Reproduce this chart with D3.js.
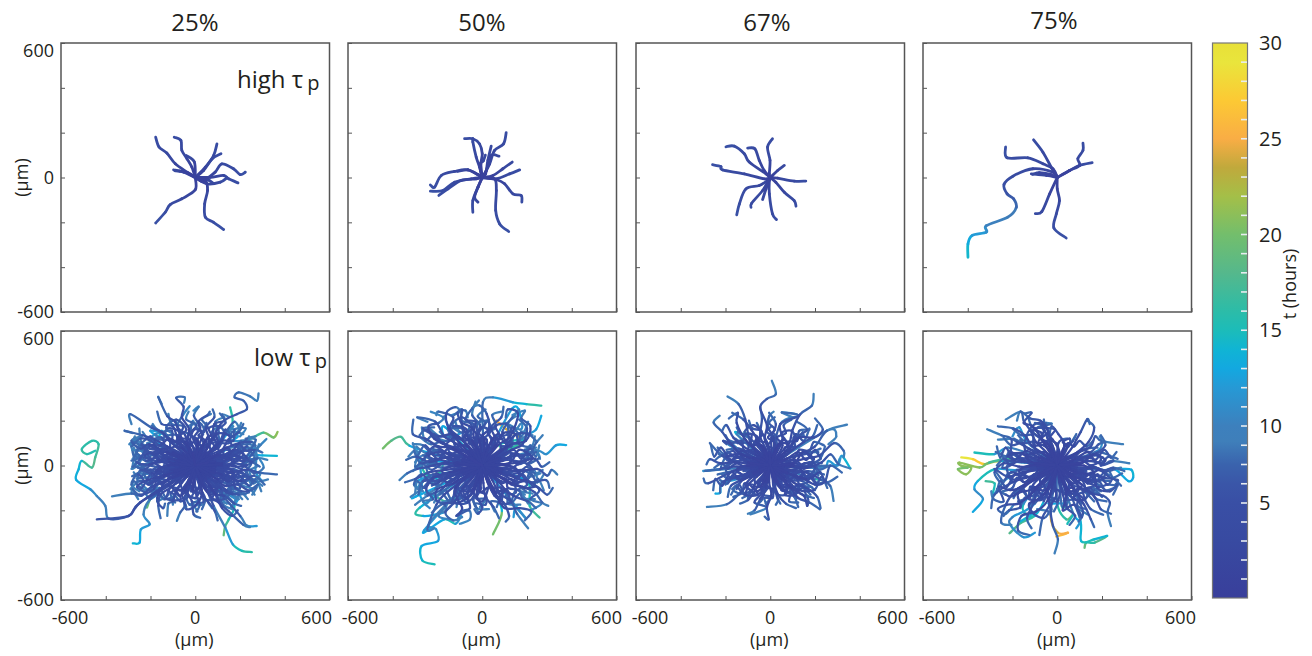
<!DOCTYPE html>
<html><head><meta charset="utf-8">
<script src="https://cdn.jsdelivr.net/npm/d3@7"></script>
<style>html,body{margin:0;background:#fff}svg{display:block}text{font-family:"Open Sans","Noto Sans",sans-serif;fill:#231f20}</style>
</head><body><svg id="c" width="1312" height="656"></svg>
<script>
const titles=["25%","50%","67%","75%"];
const tickVals=[-600,-400,-200,0,200,400,600];
const labelVals=[-600,0,600];
const cbLabels=[5,10,15,20,25,30];
const cbMinor=[1,2,3,4,5,6.25,7.5,8.75,10,11,12,13,14,15,16,17,18,19,20,21,22,23,24,25,26,27,28,29];
const colorT=[0,3,5,6.25,7.5,9,10,12,13,14,15,16,18,20,22,23.5,25,27,29,30];
const colorC=["#393f9b","#384aa1","#394fa5","#3a56a8","#3a63ad","#3f7fba","#3d80bd","#2699d5","#13a8e0","#10b4d4","#1cbcb9","#2cbca8","#55b88c","#73be6c","#a4bf48","#c0a93c","#f9ad45","#fcc934","#e9e53c","#e8e038"];
const endTimeFactor=1.3;

// tracks: [end time, x,y, x,y, ...] in µm, all starting at the origin
const high25=[
[3,-37,24,-89,61,-127,109,-162,136,-177,180],
[3,-15,46,-37,84,-60,121,-64,165,-94,180],
[2,-4,69,-40,98],
[3,45,46,82,98,97,150],
[3,37,31,75,83,115,106],
[4,45,-6,89,24,119,61,171,39,201,13,224,24],
[3,67,1,127,9,149,-6,191,-24],
[3,52,-28,112,-21,142,-1],
[2,-52,24,-97,34],
[4,0,-55,-60,-95,-112,-121,-134,-155,-177,-203],
[4,45,-13,55,-58,42,-118,45,-177,82,-200,127,-232],
[2,30,-18,55,-10,80,-25],
[2,-30,20,-70,28,-90,30]];
const high50=[
[3,-6,60,0,106,-12,150,-42,173,-79,173],
[3,-12,46,-27,91,-42,158,-42,173],
[3,10,16,33,61,55,121,95,150,107,200],
[2,15,16,25,76,40,140],
[2,18,31,40,98,75,95],
[2,48,9,92,39,134,69],
[3,63,-6,122,16,167,34],
[3,63,-9,100,-28,137,-73,174,-80,177,-110],
[4,55,-6,63,-58,60,-147,78,-207,118,-241],
[3,-19,-43,-42,-103,-42,-155],
[2,-19,-43,-34,-88,-19,-110],
[4,-64,34,-124,27,-183,9,-213,-43,-232,-33],
[4,-49,-6,-124,-21,-176,-58,-232,-61],
[3,-27,-6,-94,-13,-153,-51,-194,-80],
[2,-19,13,-64,34,-109,27],
[2,-8,30,-10,60,5,75,14,100]];
const high67=[
[3,-4,16,-1,76,-12,135,10,173],
[2,10,9,33,31,63,54],
[3,33,-3,107,-16,159,-16],
[3,25,-21,63,-66,107,-103,115,-128],
[3,-4,-13,-4,-73,10,-162,28,-188],
[2,-19,-51,-34,-98],
[3,-12,-21,-34,-58,-83,-115,-86,-133],
[4,-12,-13,-49,-36,-109,-51,-138,-118,-150,-167],
[4,-27,-6,-116,16,-213,34,-221,49,-258,57],
[4,-19,16,-94,69,-116,106,-161,140,-198,137],
[3,-27,31,-49,76,-69,128,-101,131]];
const high75=[
[3,-27,46,-64,113,-106,168],
[3,55,31,100,54,92,84,115,121,115,153],
[3,55,31,100,54,156,66],
[3,-34,-73,-69,-152,-98,-161],
[4,0,-51,10,-103,-4,-162,-15,-225,40,-270],
[4,-19,39,-64,61,-131,88,-224,88,-231,136],
[2,-49,9,-116,16],
[2,-30,14,-80,22,-110,14],
[11,-19,24,-109,39,-198,6,-238,-31,-224,-73,-195,-95,-183,-133,-221,-177,-317,-215,-317,-244,-381,-259,-399,-297,-399,-356]];

// hand-read dense tracks, low tau_p
const low25=[
[7,-12,55,-35,110,-28,165,-60,215,-52,262,-85,302,-48,305,-50,280],
[8,18,60,-8,118,22,170,-6,222,15,262,-8,245],
[6,40,50,62,115,48,170,85,215,78,250],
[7,55,40,100,95,92,150,135,190,120,228,150,218],
[6,70,32,118,65,150,118,195,150,215,185],
[7,80,20,145,55,188,70,232,120,270,130],
[8,90,12,160,30,220,20,262,60,292,92,318,118],
[7,92,-5,170,10,232,2,278,32,322,25],
[6,88,-18,158,-30,235,-18,285,-32,365,-40],
[7,85,-30,150,-58,218,-48,270,-72,325,-62],
[6,72,-42,130,-90,190,-85,240,-112,272,-100],
[7,62,-52,115,-105,165,-128,205,-120,235,-150],
[6,50,-60,90,-125,130,-135,175,-170,205,-180],
[7,35,-68,62,-130,110,-170,150,-205,215,-265,245,-275],
[6,20,-70,35,-135,60,-165,88,-205,100,-245],
[6,-2,-75,5,-130,20,-175,5,-205],
[6,-20,-70,-35,-118,-15,-160,-7,-218,22,-233],
[7,-30,-65,-60,-125,-45,-175,-67,-210,-82,-247],
[7,-48,-62,-85,-115,-100,-160,-120,-170,-125,-225],
[6,-60,-50,-105,-95,-155,-130,-165,-180,-155,-235],
[7,-72,-40,-130,-70,-195,-95,-240,-135,-285,-125,-372,-138],
[7,-82,-30,-150,-55,-205,-75,-250,-70,-290,-105],
[6,-90,-18,-165,-30,-225,-22,-282,-48],
[7,-90,-5,-160,-8,-235,5,-280,-15],
[6,-88,12,-170,18,-230,35,-285,22],
[7,-85,25,-155,40,-215,60,-282,70],
[6,-75,35,-140,65,-205,75,-275,105],
[7,-65,48,-125,85,-180,115,-235,135,-315,155,-280,145],
[7,-55,55,-110,105,-150,150,-195,168,-290,229,-285,185],
[6,-40,60,-80,125,-100,175,-150,185,-170,240],
[7,-28,65,-65,130,-90,195,-125,220,-165,305,-150,275],
[8,-22,60,-45,135,-80,175,-55,225,-25,265],
[6,8,70,30,130,15,195,55,225,65,240],
[6,30,65,75,120,85,185,130,200,110,232],
[7,50,55,105,80,135,145,175,195,200,160],
[6,65,45,130,75,195,100,250,105,270,88],
[6,75,28,150,35,205,62,265,70,300,58],
[7,85,-10,140,-15,210,-35,255,-60,300,-90],
[7,60,-35,120,-50,165,-85,225,-80,265,-130],
[6,45,-40,95,-75,140,-110,195,-130,240,-120],
[7,25,-50,55,-95,90,-125,125,-175,165,-195],
[6,5,-50,25,-105,45,-150,30,-195],
[6,-15,-45,-25,-100,-50,-145,-40,-185],
[6,-40,-45,-70,-90,-110,-125,-90,-165],
[7,-55,-35,-115,-60,-165,-80,-215,-110,-248,-95],
[7,-65,-20,-130,-25,-195,-50,-262,-58],
[6,-60,-5,-125,-12,-200,-18,-268,-5],
[6,-55,15,-120,22,-185,12,-272,42],
[6,-50,30,-110,50,-175,40,-262,85],
[7,-40,35,-95,70,-165,90,-220,88,-270,118],
[6,-20,40,-55,90,-110,115,-140,140,-195,178],
[6,0,45,5,100,-20,140,-15,195],
[6,20,40,40,85,30,130,50,190],
[6,35,25,75,60,110,95,100,145],
[6,45,10,100,25,155,45,205,35],
[6,45,-10,105,-20,170,-15,220,-40],
[6,30,-30,70,-65,125,-75,175,-100],
[5,10,-35,20,-80,5,-120],
[5,-10,-30,-30,-70,-20,-115],
[5,-30,-25,-70,-50,-120,-55],
[5,-35,-5,-85,-12,-140,2],
[5,-30,15,-75,30,-130,30],
[5,-15,30,-35,70,-70,95],
[5,12,30,20,75,50,110],
[5,30,5,70,5,120,-5],
[5,25,-20,60,-40,100,-50],
[6,-110,-20,-190,-35,-245,-20,-260,-75],
[6,-120,30,-205,5,-262,15,-280,60],
[6,-100,60,-190,50,-240,95,-265,60],
[6,110,45,200,40,255,15,288,-5],
[6,120,-40,205,-70,262,-45,310,-85],
[6,30,-120,0,-180,-40,-195,-50,-165],
[6,-120,-60,-170,-145,-145,-190,-135,-170],
[6,90,-130,120,-190,165,-225,190,-200],
[7,60,15,130,45,175,15,215,50,190,85,245,95,280,70],
[7,70,-10,140,-5,195,35,250,10,225,-25,275,-5],
[7,55,-25,120,-45,190,-25,240,-60,205,-85,265,-105],
[7,45,-40,100,-70,165,-55,200,-100,150,-110,195,-150],
[8,30,-50,85,-95,130,-65,160,-115,115,-140,140,-170],
[7,15,-55,50,-110,90,-95,95,-150,55,-155,75,-190],
[7,-5,-60,-15,-115,25,-125,35,-165,-10,-165,10,-205],
[7,-20,-55,-55,-105,-30,-135,-65,-160,-95,-130,-100,-175],
[7,-35,-50,-85,-80,-120,-110,-90,-135,-140,-150,-165,-120],
[7,-50,-35,-110,-50,-150,-85,-185,-60,-200,-110,-240,-85],
[7,-60,-20,-125,-30,-175,-55,-215,-30,-250,-55,-275,-30],
[7,-65,-5,-135,-15,-185,10,-225,-15,-260,15,-285,-15],
[7,-60,15,-125,5,-170,35,-220,20,-255,50,-280,30],
[7,-55,30,-115,40,-160,20,-200,60,-250,40,-275,80],
[7,-45,40,-100,60,-145,45,-185,90,-235,75,-265,110],
[7,-35,50,-80,85,-130,75,-150,125,-205,115,-235,150],
[7,-20,55,-55,105,-100,105,-105,155,-160,150,-190,185],
[7,-5,60,-25,115,-70,125,-55,175,-105,185,-120,230],
[7,10,55,10,115,-25,140,5,180,-40,205,-30,240],
[7,25,50,50,105,15,135,55,170,30,205,70,230],
[7,40,40,85,85,55,125,105,145,90,195,130,215],
[7,50,30,105,55,95,100,150,100,165,150,215,140],
[7,55,20,120,25,130,70,185,60,205,110,255,105],
[7,70,5,125,-20,165,5,205,-15,240,30,270,15],
[7,60,-15,110,-35,155,-15,190,-55,225,-45,250,-85],
[7,40,-30,80,-50,130,-45,145,-90,185,-100,225,-130],
[7,20,-40,60,-75,65,-120,110,-115,115,-160,155,-170],
[7,-10,-40,-30,-85,5,-100,-15,-140,20,-150,-25,-175],
[7,-30,-35,-70,-65,-60,-110,-110,-95,-125,-135,-170,-160],
[7,-40,-20,-95,-35,-105,-75,-150,-60,-180,-100,-215,-75],
[7,-45,0,-100,5,-130,-25,-170,-5,-205,-35,-255,-35],
[7,-40,20,-90,20,-120,55,-165,60,-210,40,-240,65],
[7,-30,30,-65,55,-110,70,-115,110,-165,115,-215,100],
[7,-15,40,-35,80,-80,85,-80,135,-125,135,-165,150],
[7,5,40,-10,85,-45,95,-30,140,-70,155,-85,195],
[7,20,35,30,85,-5,105,35,140,10,165,-10,200],
[7,35,25,70,50,65,95,105,110,75,150,110,175],
[7,45,10,90,35,120,10,165,35,150,75,205,85],
[8,70,65,120,110,170,110,175,160,225,165,200,130],
[8,105,10,180,-5,225,-5,265,-35,305,-10,290,25],
[8,-130,60,-205,95,-245,75,-285,110,-240,130,-295,95],
[8,-140,-45,-215,-65,-260,-95,-225,-120,-205,-150,-170,-130],
[7,80,40,140,80,185,40,230,85,260,45,285,95],
[7,85,-35,150,-70,190,-40,240,-90,270,-60,295,-115],
[7,-80,40,-145,75,-195,30,-240,90,-270,45,-290,100],
[7,-85,-40,-150,-75,-195,-35,-240,-100,-275,-70,-285,-125],
[7,90,20,160,60,215,30,255,70,280,35],
[7,90,-20,165,-50,220,-20,260,-80,290,-40],
[7,-90,25,-155,55,-205,85,-250,25,-280,-5,-265,60],
[7,-95,-25,-160,-55,-210,-85,-255,-40,-285,-85,-250,-115],
[7,-30,80,-75,125,-40,160,-85,205,-130,170,-100,140],
[7,30,85,70,135,105,95,135,160,175,125,205,190],
[7,-25,-85,-70,-135,-110,-95,-135,-150,-175,-110,-205,-150],
[7,30,-85,70,-130,110,-95,130,-150,170,-115,210,-150],
[7,-60,80,-115,120,-160,90,-200,130,-240,105,-250,165],
[7,60,85,95,140,150,135,165,90,225,80,240,130],
[7,120,0,170,-35,145,-70,205,-65,235,-20,250,-55],
[7,120,10,170,70,230,35,205,5,265,35,245,65],
[7,-120,0,-175,-25,-145,-50,-210,-65,-235,-5,-200,15],
[7,-115,15,-155,60,-225,45,-195,15,-255,-10,-220,70],
[7,10,110,-25,95,-5,160,40,150,20,190,-35,175],
[7,-10,-110,25,-95,0,-145,-40,-130,-25,-175,30,-175],
[7,45,110,85,115,60,165,110,175,140,140,170,175],
[7,-45,105,-85,105,-70,150,-125,165,-145,115,-180,140],
[7,-45,-105,-85,-110,-65,-150,-125,-150,-160,-100,-195,-125],
[7,50,-110,95,-105,75,-150,125,-150,150,-100,195,-115],
[7,100,50,150,30,190,95,235,65,270,115,225,120],
[7,100,-60,160,-30,180,-100,235,-115,280,-85,255,-130],
[7,-100,55,-165,25,-185,100,-245,120,-285,85,-270,130],
[7,-100,-55,-165,-20,-185,-105,-250,-130,-280,-105,-255,-150]];
const low50=[
[7,-10,60,-30,120,-10,180,-45,225,-30,285],
[7,15,65,-5,125,30,165,20,230,-12,268,-40,262],
[6,35,55,60,115,40,170,85,215,95,262],
[7,55,45,110,85,90,150,135,215,165,250],
[6,70,35,130,70,180,95,200,165,165,205],
[7,82,22,150,45,210,50,240,100,270,135],
[6,90,5,165,15,235,30,265,-5,300,15],
[7,88,-15,165,-25,245,-15,290,-45,310,-20,335,-40],
[6,85,-30,150,-55,215,-75,285,-65,300,-100],
[7,75,-45,130,-85,180,-95,235,-120,268,-165,295,-180],
[6,60,-55,105,-110,150,-140,205,-160,240,-190],
[7,45,-65,75,-125,130,-160,155,-215,205,-280],
[6,25,-72,55,-135,95,-165,120,-225,105,-250],
[6,5,-78,15,-140,50,-185,75,-235],
[6,-15,-75,-25,-135,0,-185,-20,-215,-35,-195],
[7,-30,-70,-65,-125,-55,-190,-95,-205,-110,-245],
[7,-50,-62,-95,-115,-125,-165,-165,-210,-130,-245,-90,-230],
[7,-65,-50,-120,-90,-170,-130,-205,-175,-245,-285,-215,-280],
[7,-75,-38,-140,-65,-185,-110,-245,-135,-300,-175],
[7,-85,-25,-155,-45,-220,-55,-265,-100,-320,-140],
[6,-90,-10,-165,-20,-235,-30,-300,-60,-345,-75],
[7,-90,5,-170,10,-240,-5,-290,-15,-335,-35,-370,-65],
[6,-88,20,-165,35,-235,15,-295,40,-340,25],
[7,-85,32,-150,55,-215,45,-265,90,-310,95],
[6,-75,45,-135,80,-195,85,-255,120,-310,140,-308,205],
[7,-65,55,-120,100,-170,130,-210,195,-290,215,-245,195],
[7,-50,65,-95,120,-145,165,-130,215,-195,240,-205,225],
[7,-35,70,-70,135,-90,180,-110,235,-75,245,-65,215],
[7,-20,72,-40,140,-30,195,-75,205,-45,255,-15,290],
[6,5,50,-10,110,-25,170,-5,205],
[6,25,45,45,100,30,145,60,165],
[6,45,30,95,60,130,110,110,140],
[6,50,10,110,25,175,20,225,60],
[6,50,-15,115,-30,180,-20,230,-50],
[6,40,-35,85,-70,145,-80,195,-115],
[6,20,-45,40,-105,80,-130,65,-185],
[6,-5,-50,-10,-105,-40,-150,-25,-190],
[6,-25,-45,-55,-95,-80,-135,-135,-160],
[6,-40,-35,-90,-70,-135,-85,-190,-130],
[6,-50,-15,-110,-30,-165,-40,-225,-90],
[6,-50,10,-110,5,-175,-10,-255,10],
[6,-45,30,-100,45,-160,55,-225,75],
[6,-30,45,-70,85,-125,100,-155,165],
[6,-10,50,-35,100,-65,140,-55,175],
[5,30,20,75,30,125,60],
[5,30,-15,70,-30,125,-35],
[5,12,-30,25,-75,55,-110],
[5,-15,-30,-30,-75,-75,-95],
[5,-30,-10,-75,-25,-130,-15],
[5,-30,10,-70,20,-120,25],
[5,-12,30,-30,70,-20,120],
[5,15,30,30,65,10,105],
[6,-115,-40,-190,-70,-265,-70,-285,-130],
[6,-125,10,-210,30,-275,10,-305,65],
[6,-95,70,-180,100,-245,160,-280,135],
[6,90,70,145,135,205,140,245,105],
[6,105,-65,190,-100,245,-95,290,-130,315,-100],
[6,60,-125,100,-190,165,-190,220,-205,190,-245],
[6,-40,-120,-105,-165,-175,-170,-225,-210],
[6,-70,95,-130,140,-195,130,-265,165,-215,170],
[6,70,90,125,130,160,230,115,250,105,215],
[6,-15,115,-50,170,-95,195,-90,250,-125,225],
[7,55,20,120,35,160,5,205,30,190,70,240,80],
[7,60,-5,125,-15,175,15,220,-10,205,-50,260,-35],
[7,50,-25,110,-45,165,-35,200,-85,160,-110,225,-125],
[7,35,-40,85,-80,130,-60,150,-120,105,-135,140,-180],
[7,15,-50,50,-100,85,-100,85,-160,40,-160,55,-205],
[7,-5,-55,-20,-110,15,-130,15,-175,-30,-170,-15,-215],
[7,-25,-50,-60,-95,-35,-130,-70,-165,-100,-135,-115,-185],
[7,-40,-40,-90,-70,-115,-115,-90,-145,-150,-160,-165,-205],
[7,-50,-25,-110,-45,-150,-85,-180,-55,-210,-105,-255,-130],
[7,-60,-10,-125,-25,-170,-60,-220,-40,-260,-65,-290,-105],
[7,-60,5,-125,-5,-175,10,-225,-20,-265,5,-310,-25],
[7,-55,20,-120,15,-165,40,-215,20,-265,45,-300,15],
[7,-50,35,-105,40,-150,25,-195,70,-250,55,-295,85],
[7,-40,45,-90,65,-140,55,-175,105,-230,95,-275,125],
[7,-30,50,-70,90,-120,85,-135,135,-190,130,-240,170],
[7,-15,55,-40,110,-85,115,-90,165,-145,170,-170,220],
[7,0,55,-15,115,-55,130,-40,185,-90,200,-95,250],
[7,15,55,20,115,-15,145,15,190,-20,220,15,250],
[7,30,50,55,105,25,145,60,180,45,225,85,240],
[7,40,40,85,80,65,125,115,140,115,190,150,220],
[7,50,30,105,55,110,100,160,100,175,150,225,135],
[7,55,10,120,5,130,55,180,40,215,90,250,55],
[7,65,-15,125,-5,165,-30,200,-5,235,-35,270,-20],
[7,50,-40,105,-60,115,-100,165,-110,180,-145,235,-150],
[7,25,-35,65,-65,70,-110,115,-125,115,-170,170,-175],
[7,-15,-40,-35,-85,-5,-100,-25,-145,15,-150,-10,-185],
[7,-30,-35,-75,-60,-70,-105,-120,-100,-130,-145,-185,-165],
[7,-40,-15,-95,-30,-115,-70,-155,-55,-195,-90,-240,-65],
[7,-40,15,-90,15,-130,45,-175,35,-215,65,-260,45],
[7,-25,35,-60,65,-105,65,-110,115,-165,110,-225,130],
[7,-5,40,-25,85,-60,100,-50,150,-100,150,-120,195],
[7,20,35,30,85,0,110,35,150,5,175,30,205],
[7,40,20,85,40,85,85,130,85,140,130,185,150],
[8,-145,-30,-225,-60,-250,-110,-220,-150,-265,-160,-235,-190],
[8,-130,-80,-200,-105,-205,-155,-165,-180,-195,-225,-150,-240],
[8,130,-80,195,-65,255,-110,215,-150,265,-170,215,-200],
[8,-130,75,-215,120,-240,175,-195,190,-175,215,-230,240],
[8,-100,100,-150,165,-160,235,-120,260,-100,240,-135,225],
[8,120,90,195,110,215,175,175,210,190,245,135,225],
[8,-120,-100,-90,-190,-115,-225,-60,-200,-55,-240,-100,-260],
[7,80,35,140,70,175,30,215,75,240,40,255,90],
[7,85,-35,145,-70,180,-40,225,-90,250,-60,275,-110],
[7,-80,40,-150,75,-200,30,-255,90,-290,45,-310,100],
[7,-85,-40,-155,-75,-205,-35,-255,-100,-290,-70,-300,-125],
[7,90,20,150,55,200,25,240,60,258,30],
[7,90,-20,155,-50,205,-20,245,-75,275,-40],
[7,-90,25,-160,55,-215,85,-265,25,-300,-5,-285,60],
[7,-95,-25,-165,-55,-220,-85,-270,-40,-305,-85,-265,-115],
[7,-30,85,-80,130,-45,170,-90,215,-135,180,-105,150],
[7,30,90,70,140,105,100,135,170,175,130,205,195],
[7,-30,-90,-75,-145,-115,-100,-140,-165,-185,-120,-215,-165],
[7,30,-90,70,-140,110,-105,130,-165,170,-125,205,-170],
[7,-60,85,-120,125,-170,95,-215,140,-255,110,-270,170],
[7,60,90,95,145,150,140,165,95,220,85,235,130],
[7,120,0,165,-35,140,-70,200,-65,230,-20,245,-55],
[7,120,10,165,70,225,35,200,5,255,35,240,65],
[7,-120,0,-180,-25,-150,-50,-220,-65,-250,-5,-215,15],
[7,-115,15,-165,60,-240,45,-205,15,-270,-10,-235,70],
[7,10,115,-25,100,-5,170,40,160,20,200,-35,185],
[7,-10,-115,25,-100,0,-160,-40,-140,-25,-190,30,-195],
[7,45,115,85,120,60,175,110,185,140,150,170,185],
[7,-45,110,-85,110,-70,160,-130,175,-150,120,-190,150],
[7,-45,-110,-85,-115,-65,-165,-130,-165,-165,-110,-205,-140],
[7,50,-115,95,-110,75,-165,125,-165,150,-110,190,-130]];
const low67=[
[7,-5,60,-25,120,-15,180,-45,259,-15,297,25,319,7,378],
[7,15,60,15,125,-10,170,-5,220,15,240],
[7,40,50,85,100,100,160,134,229,186,267,194,319],
[6,55,40,100,70,150,105,190,130,210,180],
[7,70,30,130,50,200,85,253,155,343,182],
[7,85,10,150,30,220,45,285,100,328,66,328,36],
[7,90,-5,165,-10,230,15,270,50,305,6,358,-13],
[7,85,-20,160,-30,224,-61,268,-91,283,-158],
[6,75,-35,140,-55,200,-85,245,-70,268,-1,320,-31],
[6,65,-50,120,-85,170,-105,210,-140,225,-190],
[6,50,-60,95,-105,125,-145,175,-165,222,-195],
[6,35,-70,65,-115,105,-135,125,-185],
[6,15,-72,35,-130,70,-170,115,-190],
[6,-5,-75,5,-130,-15,-188,-7,-240,-25,-228],
[7,-25,-70,-40,-125,-70,-165,-15,-188,-89,-218],
[6,-40,-65,-70,-115,-100,-155,-135,-170],
[7,-60,-50,-100,-85,-134,-121,-194,-173,-283,-185],
[6,-70,-40,-125,-65,-175,-90,-190,-140],
[6,-80,-28,-150,-50,-216,-76,-224,-121],
[6,-85,-15,-164,-24,-276,-79,-298,-58],
[6,-90,-5,-170,-5,-224,-16,-291,-24],
[6,-90,8,-165,15,-224,10,-268,28,-285,5],
[6,-85,22,-155,40,-215,45,-270,100],
[7,-75,35,-140,60,-190,115,-215,150,-253,192,-226,222],
[6,-65,50,-120,85,-165,125,-195,180,-215,155],
[7,-50,60,-90,105,-112,207,-142,274,-191,308],
[6,-35,65,-60,120,-85,160,-120,205,-170,235],
[6,-18,70,-45,130,-37,207,-45,259],
[6,5,70,5,125,25,185,-5,235],
[6,30,60,55,115,45,185,127,222,52,237],
[6,45,45,90,75,115,125,165,160,120,195],
[6,60,25,110,40,170,55,225,75],
[6,60,-5,115,-5,175,15,230,10],
[6,55,-20,110,-30,170,-25,240,-40],
[6,45,-35,95,-65,145,-70,200,-110],
[6,30,-45,55,-90,85,-100,120,-145],
[6,10,-50,15,-100,35,-150,25,-175],
[6,-10,-50,-25,-95,-35,-150,-55,-170],
[6,-30,-40,-65,-80,-90,-125,-125,-145],
[6,-45,-25,-100,-45,-155,-50,-200,-85],
[6,-50,-5,-110,-10,-170,-25,-235,-40],
[6,-50,12,-105,25,-165,20,-230,50],
[6,-40,30,-85,55,-140,75,-195,70],
[6,-25,45,-55,85,-90,120,-145,150],
[6,-5,50,-15,105,-40,150,-60,190],
[5,15,40,30,90,20,140],
[5,30,25,70,45,110,80],
[5,35,0,80,-5,130,-15],
[5,30,-20,70,-40,110,-60],
[5,10,-30,25,-70,15,-120],
[5,-10,-30,-25,-70,-60,-95],
[5,-30,-10,-70,-20,-120,-25],
[5,-30,10,-70,15,-125,35],
[5,-12,30,-30,70,-65,100],
[5,-50,-10,-85,-30,-130,-70,-150,-105],
[5,70,-65,130,-110,195,-110,215,-75],
[6,70,65,130,125,195,125,235,160,200,210],
[6,-110,115,-150,190,-145,235,-185,210],
[6,160,-60,220,-30,250,-75,300,-50],
[7,-20,-100,-45,-150,-70,-200,-100,-215],
[6,95,-100,150,-135,165,-180,168,-145,135,-125],
[5,-130,50,-170,90,-210,110,-195,95],
[6,50,15,110,25,150,-5,190,20,165,55,215,60],
[6,55,-10,110,-20,155,10,200,-10,185,-40,225,-30],
[6,45,-25,95,-40,140,-30,170,-70,135,-90,185,-95],
[6,30,-40,75,-70,110,-50,130,-100,90,-110,115,-150],
[6,10,-45,40,-90,70,-85,70,-130,30,-135,45,-170],
[6,-10,-45,-20,-95,10,-105,10,-145,-25,-145,-15,-180],
[6,-25,-40,-55,-80,-35,-110,-65,-130,-90,-110,-100,-150],
[6,-40,-30,-85,-55,-110,-90,-85,-115,-135,-125,-160,-115],
[6,-45,-15,-100,-30,-135,-65,-170,-45,-190,-80,-225,-65],
[6,-50,0,-105,-10,-150,10,-190,-15,-215,10,-250,-10],
[6,-45,15,-100,10,-140,35,-185,20,-215,45,-245,25],
[6,-40,30,-90,35,-130,25,-165,65,-205,50,-235,80],
[6,-30,40,-70,70,-115,65,-130,110,-175,100,-200,135],
[6,-15,50,-45,90,-85,95,-85,140,-130,140,-150,170],
[6,0,50,-15,100,-50,110,-40,155,-80,165,-95,200],
[6,15,50,20,100,-10,125,20,160,-5,190,20,215],
[6,30,40,55,90,30,125,70,145,60,180,95,205],
[6,40,25,85,60,75,105,120,110,130,155,175,160],
[6,50,5,105,30,130,70,175,65,195,105,240,90],
[6,60,-5,115,10,150,-15,195,10,215,-20,255,-5],
[6,50,-30,100,-25,130,-60,175,-45,210,-80,250,-70],
[6,35,-40,80,-50,95,-95,145,-85,160,-130,195,-145],
[6,15,-35,50,-65,50,-110,90,-120,85,-160,125,-165],
[6,-15,-35,-35,-70,-10,-95,-30,-130,5,-140,-20,-170],
[6,-30,-25,-70,-45,-70,-85,-115,-80,-125,-120,-165,-140],
[6,-35,-5,-85,-15,-105,-50,-150,-30,-185,-60,-215,-40],
[6,-35,15,-85,15,-115,45,-155,35,-190,60,-225,40],
[6,-20,30,-50,60,-95,60,-100,100,-145,100,-190,115],
[6,10,30,20,70,-10,90,15,125,-15,150,5,175],
[6,30,20,65,45,65,80,110,85,105,125,150,135],
[6,75,30,125,60,160,25,200,70,225,35,245,85],
[6,75,-30,130,-60,160,-30,205,-80,230,-50,255,-100],
[6,-75,35,-130,65,-175,25,-220,80,-250,40,-265,90],
[6,-75,-35,-130,-65,-175,-30,-215,-90,-245,-60,-255,-110],
[6,-25,75,-65,110,-35,140,-75,180,-115,150,-90,125],
[6,25,75,60,115,90,85,115,140,150,110,175,165],
[6,-20,-75,-60,-115,-95,-85,-115,-130,-150,-95,-175,-130],
[6,25,-75,60,-110,95,-85,110,-130,145,-100,180,-130],
[6,105,0,145,-30,125,-60,175,-55,200,-15,215,-45],
[6,105,10,145,60,195,30,175,5,225,30,210,55],
[6,-105,0,-150,-20,-125,-45,-180,-55,-200,-5,-175,15],
[6,-100,15,-135,50,-195,40,-170,15,-220,-10,-190,60],
[6,40,95,75,100,50,145,95,155,120,120,145,150],
[6,-40,90,-75,90,-60,130,-110,140,-125,100,-155,120],
[6,-40,-90,-75,-95,-55,-130,-110,-130,-140,-85,-170,-105],
[6,45,-95,85,-90,65,-130,110,-130,130,-85,170,-100]];
const low75=[
[7,-10,55,-30,110,-45,165,-75,200,-120,210,-164,240,-180,200],
[7,10,60,-20,115,-55,150,-70,180,-50,190,-25,187],
[6,25,55,30,100,5,140,-25,175,-35,130],
[6,40,45,70,85,85,115,105,150,134,207,145,185],
[7,55,35,100,60,150,85,170,130,197,110,294,95],
[6,70,22,130,40,175,55,215,90,195,135],
[7,85,10,150,20,210,5,241,21,322,10],
[7,88,-8,165,-10,225,-25,257,-16,285,-10],
[6,85,-22,150,-40,215,-55,270,-65,260,-85],
[6,70,-40,125,-70,185,-95,225,-85,270,-90],
[7,60,-55,105,-100,155,-125,205,-135,235,-165,225,-210,240,-270],
[6,45,-65,80,-115,120,-150,150,-195,205,-220],
[6,30,-70,50,-130,95,-160,115,-215,95,-250],
[6,10,-75,25,-130,45,-190,80,-225,55,-265],
[7,-10,-75,-5,-135,-30,-185,-19,-270,3,-329,-12,-392],
[6,-30,-70,-50,-125,-35,-175,-65,-230,-80,-310],
[6,-50,-60,-90,-100,-105,-165,-135,-235,-115,-280],
[7,-65,-48,-125,-75,-185,-110,-230,-175,-250,-255,-205,-265],
[6,-75,-35,-140,-55,-200,-75,-280,-130,-295,-190],
[6,-85,-20,-155,-30,-220,-50,-280,-16,-240,-75],
[6,-90,-5,-170,-5,-240,10,-280,-30,-260,-70],
[6,-88,12,-160,15,-230,25,-250,55],
[7,-85,25,-150,50,-205,60,-205,118,-250,135,-313,162],
[7,-70,40,-125,75,-180,105,-205,118,-265,115],
[6,-60,50,-115,90,-145,135,-195,165,-265,175],
[7,-50,60,-95,105,-120,155,-150,200,-164,240,-230,205],
[7,-35,65,-70,115,-110,150,-85,170,-30,185,-25,187],
[6,-20,65,-45,125,-65,175,-100,190],
[6,0,60,5,100,20,115,45,120],
[6,20,50,50,85,70,110,85,140],
[6,40,35,85,55,130,75,180,80],
[6,50,15,105,25,165,45,205,35],
[6,50,-10,115,-15,175,-10,235,-45],
[6,45,-30,100,-55,150,-65,205,-100],
[6,30,-45,65,-85,110,-105,165,-160],
[6,12,-50,20,-105,45,-145,40,-185],
[6,-10,-50,-15,-105,-35,-145,-25,-195],
[6,-30,-40,-65,-80,-90,-130,-120,-175],
[6,-45,-25,-95,-45,-145,-85,-190,-110],
[6,-50,-5,-110,-15,-170,-20,-225,-40],
[6,-45,15,-100,25,-165,35,-215,60],
[6,-35,30,-75,60,-130,75,-165,115],
[6,-15,45,-35,90,-75,125,-95,165],
[5,15,35,30,80,50,95],
[5,30,20,70,35,115,40],
[5,35,-5,80,-10,130,-25],
[5,25,-25,60,-50,100,-80],
[5,5,-35,10,-75,25,-110],
[5,-15,-30,-30,-70,-65,-95],
[5,-30,-10,-70,-20,-125,-20],
[5,-30,10,-75,15,-130,30],
[5,-15,30,-30,65,-60,90],
[6,110,-85,170,-145,195,-195,240,-215],
[6,-100,-100,-175,-125,-165,-185,-215,-200,-240,-225],
[6,-115,-70,-195,-135,-230,-130,-270,-105],
[6,70,-100,120,-175,150,-240,165,-275],
[6,-40,-150,-95,-205,-160,-225,-175,-290,-125,-310],
[6,90,60,140,105,165,170,135,200],
[6,-70,120,-110,175,-150,190,-115,235,-145,232],
[6,130,-40,190,-20,240,-55,290,-35],
[6,55,10,110,25,150,0,195,25,180,60,225,50],
[6,55,-10,110,-25,160,-5,205,-30,185,-60,235,-70],
[6,45,-30,95,-50,140,-40,170,-85,130,-105,185,-125],
[6,30,-40,70,-80,110,-65,125,-115,85,-130,110,-170],
[6,10,-50,40,-100,75,-100,70,-150,30,-155,45,-195],
[6,-10,-50,-25,-100,10,-115,0,-160,-35,-155,-25,-205],
[6,-25,-45,-60,-85,-40,-125,-75,-145,-100,-120,-110,-170],
[6,-40,-35,-90,-65,-115,-105,-90,-130,-145,-145,-165,-190],
[6,-50,-20,-105,-40,-145,-75,-180,-55,-200,-100,-245,-115],
[6,-55,-5,-115,-15,-160,-45,-205,-30,-235,-65,-260,-100],
[6,-55,10,-115,5,-160,25,-210,5,-240,30,-270,0],
[6,-45,25,-100,35,-145,15,-185,50,-225,40,-275,60],
[6,-40,40,-85,60,-135,50,-155,100,-205,90,-240,125],
[6,-25,50,-60,90,-105,90,-110,135,-160,135,-200,165],
[6,-10,55,-30,105,-70,115,-60,165,-110,170,-130,215],
[6,5,50,0,95,-35,120,-10,160,-50,170,-60,205],
[6,25,40,45,85,25,105,55,120,60,100,80,130],
[6,35,30,80,40,110,70,150,60,185,95,215,105],
[6,50,5,110,10,145,35,190,10,230,40,270,30],
[6,55,-15,115,-25,155,-5,200,-25,250,-10,300,-25],
[6,50,-35,105,-40,135,-80,185,-70,215,-110,255,-100],
[6,35,-45,80,-60,100,-105,150,-100,170,-145,220,-160],
[6,15,-40,50,-75,55,-120,95,-135,90,-180,130,-195],
[6,-15,-40,-35,-80,-10,-105,-30,-140,5,-155,-15,-205],
[6,-30,-30,-75,-55,-75,-100,-120,-95,-130,-140,-175,-160],
[6,-35,-10,-85,-20,-110,-60,-155,-40,-190,-75,-220,-50],
[6,-35,10,-85,15,-120,40,-165,25,-200,55,-235,30],
[6,-20,30,-55,60,-95,60,-105,105,-150,100,-195,120],
[6,30,-15,70,-20,105,-50,150,-35,180,-70,215,-55],
[7,-150,-90,-210,-110,-260,-95,-240,-160,-285,-150,-295,-115],
[7,-120,-130,-175,-170,-225,-175,-265,-195,-230,-215,-195,-175],
[7,40,-130,25,-200,75,-175,110,-230,90,-195,140,-220],
[7,-60,-130,-125,-170,-105,-215,-60,-235,-40,-205,-90,-195],
[6,80,30,135,60,170,25,210,70,240,35,265,60],
[6,85,-35,145,-70,180,-40,225,-85,250,-60,285,-90],
[6,-80,35,-140,65,-190,25,-230,80,-255,35,-270,85],
[6,-85,-40,-145,-75,-185,-35,-225,-95,-255,-70,-270,-120],
[6,-30,80,-70,120,-40,150,-80,190,-120,165,-95,135],
[6,25,70,50,100,75,85,100,110,130,85,160,110],
[6,-25,-85,-65,-130,-105,-95,-125,-145,-165,-105,-195,-145],
[6,30,-85,65,-125,105,-95,125,-145,165,-110,200,-140],
[6,120,0,165,-35,140,-65,200,-60,225,-20,245,-50],
[6,115,15,160,50,215,25,195,0,250,20,235,45],
[6,-120,0,-170,-25,-145,-50,-205,-60,-225,-5,-195,15],
[6,-115,15,-155,55,-220,45,-190,15,-245,-10,-215,65],
[6,-45,100,-85,100,-70,145,-125,155,-145,110,-175,135],
[6,-45,-105,-85,-110,-65,-150,-125,-150,-155,-100,-190,-125],
[6,50,-110,95,-105,75,-150,125,-150,150,-100,195,-115],
[6,100,-60,160,-30,180,-100,235,-115,270,-85,250,-130]];

// tracks with colours read point by point: [x,y,t, x,y,t, ...]
const timed25=[
[-120,-90,3,-246,-165,5,-298,-225,6,-387,-237,7,-402,-180,9,-440,-136,10,-469,-106,11,-532,-64,13,-521,-16,13.5,-507,21,14,-462,-9,17,-447,36,18,-432,95,17,-462,110,16,-507,73,16,-484,51,16.5,-447,66,15.5],
[-246,-165,4,-298,-225,5,-440,-240,6],
[-100,-75,3,-201,-150,7,-231,-218,9,-204,-262,11,-243,-285,12,-249,-344,13,-279,-347,14],
[-150,-105,6,-194,-136,16,-216,-188,19],
[120,60,6,171,88,14,246,118,15,305,147,17,350,125,20,368,150,21],
[180,30,8,246,46,12,300,45,13,365,43,14],
[60,90,3,119,192,5,186,229,6,231,252,6.5,216,289,7,176,304,7.5,194,326,8,246,308,8.5,276,289,9,283,322,9.5],
[90,80,5,164,177,13,156,259,16],
[40,-80,3,82,-180,6,134,-277,9,168,-352,12,209,-381,15,253,-386,16],
[100,-100,6,174,-173,10,150,-240,15,134,-270,17,127,-311,19],
[100,-110,4,201,-225,7,230,-268,9,275,-270,12],
[-80,60,5,-164,103,13,-149,155,14],
[-130,130,8,-200,155,12,-165,125,13],
[250,80,10,270,-30,11,300,-70,12],
[180,-150,11,160,-120,13],
[120,120,7,160,165,11,190,130,12,165,110,13,215,110,11],
[-190,110,9,-145,150,11,-120,125,10],
[150,-130,9,190,-150,11,160,-185,12,205,-120,10]];
const timed50=[
[-180,40,8,-325,88,13,-363,128,17,-407,110,18,-444,76,20],
[-90,-100,3,-235,-255,9,-206,-285,11,-198,-337,12,-271,-359,13,-268,-423,14,-213,-441,15],
[100,30,5,241,66,10,286,51,11,331,91,12,375,91,13],
[95,60,5,182,110,21,107,162,24,63,200,25,100,170,25],
[182,110,16,78,95,15,107,66,17],
[3,140,3,3,282,8,48,304,9,137,282,12,197,274,14,264,267,16],
[100,-30,5,206,-76,13,212,-180,15,256,-232,17],
[40,-90,4,88,-203,14,48,-307,20],
[-100,-100,7,-146,-165,15,-235,-121,17],
[-279,-188,14,-265,-225,16,-176,-210,13,-140,-180,9],
[197,133,9,241,162,12,264,222,13],
[-235,10,8,-280,30,15,-250,-40,16,-190,-30,17,-175,10,16],
[-270,-60,12,-285,-100,13,-240,-45,15,-190,-70,14],
[-300,-140,13,-270,-105,13,-290,60,12,-330,40,9],
[-165,170,14,-170,130,13,-130,130,11,-95,145,12],
[-260,-290,12,-170,-240,13,-120,-260,15,-95,-225,12],
[135,255,12,175,200,13,170,160,11,105,190,9],
[190,-230,12,150,-190,11,140,-230,12],
[-200,20,13,-140,15,15,-105,10,16],
[-250,-60,10,-280,-120,12,-250,-170,13,-215,-120,11]];
const timed67=[
[-200,105,8,-165,90,11,-130,55,10,-190,100,11],
[45,185,7,127,222,10,52,237,11,100,215,9],
[225,-10,9,260,20,12,295,0,12,310,30,11],
[268,-1,8,305,6,12,320,43,12,358,-13,14],
[-149,-61,8,-216,-76,12,-224,-121,13,-245,-125,13],
[-291,-24,10,-224,-16,11],
[-150,140,10,-130,140,14,-110,145,16],
[200,-60,10,225,-62,16,240,-65,14],
[-180,90,9,-150,75,11,-185,110,10,-140,60,10],
[253,155,9,295,130,10,260,95,9]];
const timed75=[
[-200,30,8,-305,13,17,-347,-9,20,-437,13,21,-429,-1,21,-385,-9,21,-407,-39,21,-444,-16,21,-400,-10,20],
[-250,20,14,-325,6,22,-377,28,27,-429,36,29],
[-120,50,6,-220,80,10,-281,51,12,-370,58,15],
[-180,-20,6,-280,-16,12,-355,-69,15,-370,-106,13,-332,-150,11,-377,-207,13],
[-210,-50,7,-285,-130,11,-280,-80,15,-320,-70,17],
[-60,-160,6,-101,-225,14,-161,-255,17,-213,-302,18],
[-100,-170,7,-200,-230,12,-210,-265,10,-150,-320,11,-100,-300,12],
[-30,-220,8,3,-300,24,48,-300,25,-4,-317,26],
[0,-170,8,40,-240,16,70,-220,19,45,-260,15],
[20,-180,8,30,-170,16,-40,-170,13],
[100,-230,7,107,-337,14,167,-329,15,223,-314,14,167,-344,18,130,-344,16,122,-367,19],
[200,-20,8,257,-16,12,317,-69,13,339,-54,13,331,-19,14,290,-15,13],
[-150,-170,11,-120,-230,15,-100,-210,16,-165,-250,14],
[-130,100,10,-170,170,12,-200,130,11],
[170,60,8,200,100,11,190,130,10],
[70,-210,9,100,-250,13,85,-280,12]];

const yTop=[43,331], ySize=269;
const xLeft=[61,348,636,923], xSize=268.5;
const lowHigh=[high25,high50,high67,high75];
const lowBody=[low25,low50,low67,low75];
const lowTimed=[timed25,timed50,timed67,timed75];
const minusShift=[9,12,14,14], plusShift=[-13,-10,-12,-11];

const svg=d3.select("#c");
const tColor=d3.scaleLinear().domain(colorT).range(colorC).clamp(true);

function pushSegs(segs,pts,tf){
  pts.forEach((p,i)=>{
    if(i===pts.length-1)return;
    segs.push({a:pts[Math.max(i-1,0)],b:p,c:pts[i+1],d:pts[Math.min(i+2,pts.length-1)],t:tf(i)});
  });
}
function segmentsOf(body,timed){
  const segs=[];
  body.forEach(tr=>{
    const T=tr[0]*endTimeFactor, pts=[[0,0]];
    for(let i=1;i<tr.length;i+=2)pts.push([tr[i],tr[i+1]]);
    const tAt=d3.scaleLinear().domain([0,pts.length-1]).range([0,T]);
    pushSegs(segs,pts,i=>tAt(i+1));
  });
  timed.forEach(tr=>{
    const pts=[[0,0,0]];
    for(let i=0;i<tr.length;i+=3)pts.push([tr[i],tr[i+1],tr[i+2]]);
    pushSegs(segs,pts,i=>pts[i+1][2]);
  });
  return d3.sort(segs,d=>-d.t);
}

function panel(col,row){
  const x=d3.scaleLinear().domain([-600,600]).range([xLeft[col],xLeft[col]+xSize]);
  const y=d3.scaleLinear().domain([-600,600]).range([yTop[row]+ySize,yTop[row]]);
  const g=svg.append("g");
  const P=q=>[x(q[0]),y(q[1])];
  const curve=s=>{
    const [a,b,c,d]=[s.a,s.b,s.c,s.d].map(P), p=d3.path();
    p.moveTo(b[0],b[1]);
    p.bezierCurveTo(b[0]+(c[0]-a[0])/6,b[1]+(c[1]-a[1])/6,c[0]-(d[0]-b[0])/6,c[1]-(d[1]-b[1])/6,c[0],c[1]);
    return p.toString();
  };
  const segs=row===0?segmentsOf(lowHigh[col],[]):segmentsOf(lowBody[col],lowTimed[col]);
  g.append("g").attr("fill","none").attr("stroke-linecap","round")
    .attr("stroke-width",row===0?2.8:2.3)
    .selectAll("path").data(segs).join("path")
    .attr("d",curve).attr("stroke",d=>tColor(d.t));
  const ax=g.append("g").attr("transform",`translate(0,${yTop[row]+ySize})`)
    .call(d3.axisBottom(x).tickValues(tickVals).tickSize(-4).tickFormat(""));
  const ay=g.append("g").attr("transform",`translate(${xLeft[col]},0)`)
    .call(d3.axisLeft(y).tickValues(tickVals).tickSize(-4).tickFormat(""));
  [ax,ay].forEach(a=>{a.select(".domain").remove();a.selectAll("line").attr("stroke","#555").attr("stroke-width",1);});
  g.append("rect").attr("x",xLeft[col]).attr("y",yTop[row]).attr("width",xSize).attr("height",ySize)
    .attr("fill","none").attr("stroke","#555").attr("stroke-width",1.5);
  if(row===1){
    g.selectAll(".xl").data(labelVals).join("text").attr("text-anchor","middle").attr("font-size",18)
      .attr("x",d=>x(d)+(d<0?minusShift[col]:(d>0?plusShift[col]:0))).attr("y",624).text(d=>d);
    g.append("text").attr("text-anchor","middle").attr("font-size",18).attr("x",x(0)-1).attr("y",646).text("(\u00b5m)");
  }
  if(col===0){
    g.selectAll(".yl").data(labelVals).join("text").attr("text-anchor","end").attr("font-size",18)
      .attr("x",xLeft[0]-7).attr("y",d=>y(d)+(d===600?14:6)).text(d=>d);
    g.append("text").attr("text-anchor","middle").attr("font-size",18)
      .attr("transform",`translate(28,${y(0)}) rotate(-90)`).text("(\u00b5m)");
  }
}
d3.range(4).forEach(c=>{panel(c,0);panel(c,1);});

const titleX=[195,482,767,1054], titleY=[31,31,31,29];
svg.selectAll(".title").data(titles).join("text").attr("text-anchor","middle").attr("font-size",24)
  .attr("x",(d,i)=>titleX[i]).attr("y",(d,i)=>titleY[i]).text(d=>d);

function tau(word,xp,yp){
  const t=svg.append("text").attr("x",xp).attr("y",yp).attr("font-size",24).text(word+" \u03c4");
  t.append("tspan").attr("font-size",20).attr("dx",4).attr("dy",2).text("p");
}
tau("high",237,88);
tau("low",254,366);

// colour bar
const cb=d3.scaleLinear().domain([0,5,10,30]).range([598,503,426,43]);
const defs=svg.append("defs");
const grad=defs.append("linearGradient").attr("id","cbg").attr("x1",0).attr("x2",0).attr("y1",0).attr("y2",1);
grad.selectAll("stop").data(d3.sort(colorT,d=>-d)).join("stop")
  .attr("offset",d=>(cb(d)-43)/(598-43)).attr("stop-color",d=>tColor(d));
svg.append("rect").attr("x",1212.5).attr("y",43).attr("width",35).attr("height",555)
  .attr("fill","url(#cbg)").attr("stroke","#777").attr("stroke-width",1.2);
svg.selectAll(".mn").data(cbMinor).join("line")
  .attr("x1",1241).attr("x2",1247).attr("y1",d=>cb(d)).attr("y2",d=>cb(d))
  .attr("stroke","#e8edf0").attr("stroke-width",1.6);
svg.selectAll(".cbl").data(cbLabels).join("text").attr("font-size",20).attr("x",1259)
  .attr("y",d=>cb(d)+7).text(d=>d);
svg.append("text").attr("text-anchor","middle").attr("font-size",18)
  .attr("transform","translate(1296,284) rotate(-90)").text("t (hours)");
</script></body></html>
